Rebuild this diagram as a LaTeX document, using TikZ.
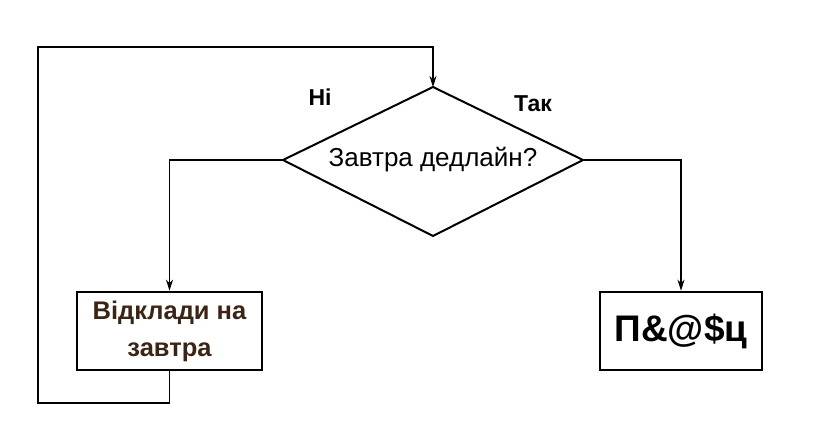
\documentclass[tikz,border=0pt]{standalone}
\usepackage{fontspec}
\setmainfont{Liberation Sans}
\usetikzlibrary{arrows.meta}
\definecolor{brn}{HTML}{3A2415}
\begin{document}
\begin{tikzpicture}[x=1pt,y=-1pt,
  conn/.style={line width=1.4pt},
  arr/.style={conn,-{Stealth[length=11pt,width=7pt]}},
  box/.style={draw,line width=2.6pt,inner sep=0pt}]
\useasboundingbox (0,0) rectangle (828,443);
\coordinate (dt) at (433,87);
\coordinate (db) at (433,236);
\coordinate (dl) at (283,160);
\coordinate (dr) at (583,160);
\draw[line width=2pt,line join=miter] (dt)--(dr)--(db)--(dl)--cycle;
\node (q) at (433,160) {\fontsize{26}{30}\selectfont Завтра дедлайн?};
\node[box,minimum width=185pt,minimum height=78pt,align=center,text=brn,font=\bfseries\fontsize{25.5}{37}\selectfont] (a) at (169.5,331) {Відклади на\\завтра};
\node[box,minimum width=162pt,minimum height=78pt,font=\bfseries\fontsize{37}{40}\selectfont] (b) at (681,331) {П\&@\$ц};
\node[font=\bfseries\fontsize{23}{26}\selectfont] (no) at (320,97) {Ні};
\node[font=\bfseries\fontsize{23}{26}\selectfont] (yes) at (533,104) {Так};
\draw[arr] (dl) -| (a.north);
\draw[arr] (dr) -| (b.north);
\coordinate (c1) at (38,403);
\coordinate (c2) at (38,47);
\draw[arr] (a.south) |- (c1) -- (c2) -| (dt);
\end{tikzpicture}
\end{document}
